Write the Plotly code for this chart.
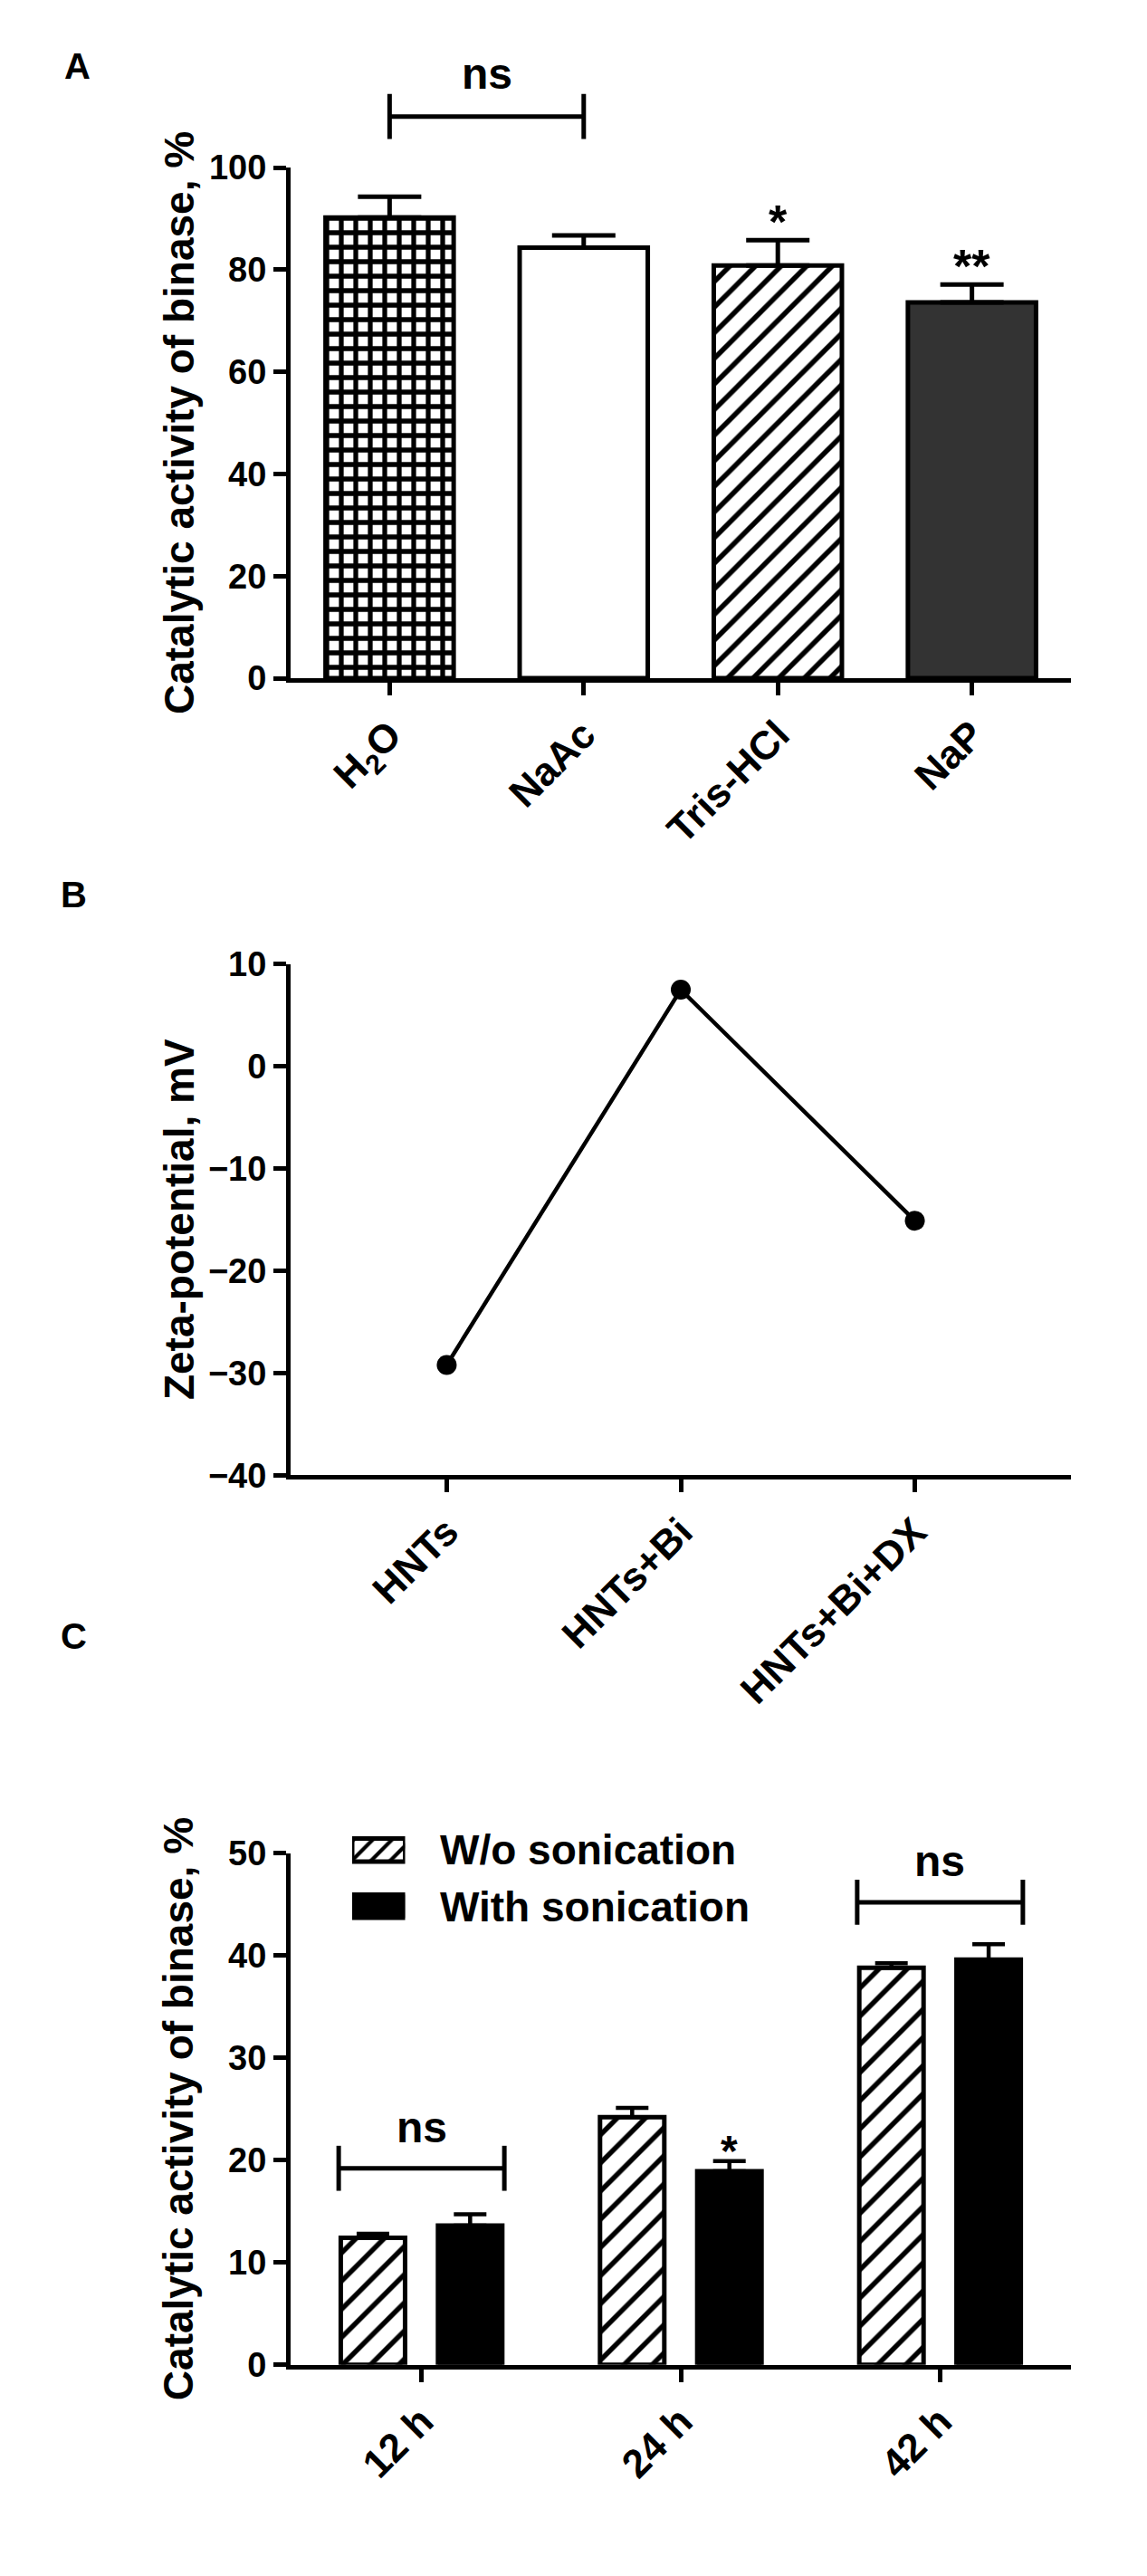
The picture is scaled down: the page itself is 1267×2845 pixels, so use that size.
import plotly.graph_objects as go

W, H = 1267, 2845
FONT = 'Liberation Sans'

# panel A: binase activity in different buffers
buffers = ['H<sub>2</sub>O', 'NaAc', 'Tris-HCl', 'NaP']
activity_buffers = [90.2, 84.3, 80.8, 73.6]
err_buffers = [4.1, 2.4, 5.0, 3.5]
stars_buffers = ['', '', '*', '**']
ns_buffers = [(0, 1, 110.0)]          # (from, to, bracket height)

# panel B: zeta-potential
samples = ['HNTs', 'HNTs+Bi', 'HNTs+Bi+DX']
zeta = [-29.2, 7.5, -15.1]

# panel C: activity vs time, with / without sonication
times = ['12 h', '24 h', '42 h']
series_c = ['W/o sonication', 'With sonication']
wo_sonic = [12.4, 24.2, 38.8]
wo_err = [0.4, 0.9, 0.45]
with_sonic = [13.6, 18.9, 39.6]
with_err = [1.1, 1.0, 1.5]
stars_times = ['', '*', '']
ns_times = [(0, 19.2), (2, 45.2)]      # (group, bracket height)


def fx(p):
    return p / W


def fy(p):
    return 1 - p / H


x_dom = [fx(321), fx(1183)]
A_TOP, A_BOT = 166.5, 739
dom_a = [fy(A_BOT), fy(A_TOP)]
dom_b = [fy(1632.5), fy(1059.4)]
dom_c = [fy(2629.5), fy(2056)]
# taller invisible axis over panel A, same scale, so the bracket above 100 is not clipped
A_EXTRA_TOP = 30
dom_a_top = [fy(A_BOT), fy(A_EXTRA_TOP)]
range_a_top = [0, 100 * (A_BOT - A_EXTRA_TOP) / (A_BOT - A_TOP)]

LW = 5
SLOT = 0.375
BW_C = 0.248


def pattern(shape, size, solidity):
    if not shape:
        return dict(shape='')
    return dict(shape=shape, size=size, solidity=solidity, fgcolor='black', bgcolor='white',
                fgopacity=1, fillmode='replace')


def bracket(x0, x1, y, h):
    return [x0, x0, None, x0, x1, None, x1, x1], [y - h, y + h, None, y, y, None, y - h, y + h]


fig = go.Figure()

# ---- A  (one trace per bar so that each bar gets its own fill)
styles_a = [('white', '+', 16, 0.55), ('white', '', 0, 0), ('white', '/', 20, 0.28), ('#333333', '', 0, 0)]
for i, (col, shp, sz, sol) in enumerate(styles_a):
    fig.add_trace(go.Bar(
        x=[i], y=[activity_buffers[i]], width=0.66,
        marker=dict(color=col, line=dict(color='black', width=LW), pattern=pattern(shp, sz, sol)),
        error_y=dict(type='data', array=[err_buffers[i]], arrayminus=[0],
                     symmetric=False, color='black', thickness=LW, width=35),
        xaxis='x', yaxis='y', showlegend=False))

for a, b, h in ns_buffers:
    bx, by = bracket(a, b, h, 4.4)
    fig.add_trace(go.Scatter(x=bx, y=by, mode='lines', line=dict(color='black', width=LW),
                             cliponaxis=False, xaxis='x', yaxis='y5', showlegend=False,
                             hoverinfo='skip'))

# ---- B
fig.add_trace(go.Scatter(
    x=list(range(len(samples))), y=zeta, mode='lines+markers',
    line=dict(color='black', width=4.5), marker=dict(color='black', size=22),
    cliponaxis=False, xaxis='x2', yaxis='y2', showlegend=False))

# ---- C
idx_c = list(range(len(times)))
fig.add_trace(go.Bar(
    x=idx_c, y=wo_sonic, width=BW_C, offset=-SLOT / 2 - BW_C / 2, name=series_c[0],
    marker=dict(color='white', line=dict(color='black', width=LW), pattern=pattern('/', 22, 0.25)),
    error_y=dict(type='data', array=wo_err, arrayminus=[0] * len(times), symmetric=False,
                 color='black', thickness=4.5, width=18),
    xaxis='x3', yaxis='y3', showlegend=False))
fig.add_trace(go.Bar(
    x=idx_c, y=with_sonic, width=BW_C, offset=SLOT / 2 - BW_C / 2, name=series_c[1],
    marker=dict(color='black', line=dict(color='black', width=LW)),
    error_y=dict(type='data', array=with_err, arrayminus=[0] * len(times), symmetric=False,
                 color='black', thickness=4.5, width=18),
    xaxis='x3', yaxis='y3', showlegend=False))

half = SLOT / 2 + BW_C / 2 + 0.008
for g, h in ns_times:
    bx, by = bracket(g - half, g + half, h, 2.2)
    fig.add_trace(go.Scatter(x=bx, y=by, mode='lines', line=dict(color='black', width=LW),
                             cliponaxis=False, xaxis='x3', yaxis='y3', showlegend=False))

# legend swatches for C (drawn on a small hidden axis)
swatches = [('white', '/'), ('black', '')]
for k, (col, shp) in enumerate(swatches):
    fig.add_trace(go.Bar(
        y=[len(series_c) - 1 - k], x=[1], orientation='h', width=0.41,
        marker=dict(color=col, line=dict(color='black', width=LW), pattern=pattern(shp, 15, 0.28)),
        cliponaxis=False, xaxis='x4', yaxis='y4', showlegend=False, hoverinfo='skip'))

# ---- axes
tick_y = dict(family=FONT, size=38, color='black', weight='bold')
tick_x = dict(family=FONT, size=44, color='black', weight='bold')


def yax(dom, rng, dtick, anchor):
    return dict(domain=dom, range=rng, tick0=rng[0], dtick=dtick, anchor=anchor,
                showline=True, linecolor='black', linewidth=LW,
                ticks='outside', ticklen=14, tickwidth=LW, tickcolor='black',
                showgrid=False, zeroline=False, tickfont=tick_y)


def xax(labels, pad, anchor):
    n = len(labels)
    return dict(domain=x_dom, range=[-pad, n - 1 + pad], anchor=anchor,
                tickvals=list(range(n)), ticktext=labels, tickangle=-45,
                showline=True, linecolor='black', linewidth=LW,
                ticks='outside', ticklen=14, tickwidth=LW, tickcolor='black',
                showgrid=False, zeroline=False, tickfont=tick_x)


annotations = []


def label(text, x, y, size, xanchor='center', yanchor='middle', **kw):
    annotations.append(dict(text=text, x=x, y=y, xref='paper', yref='paper', showarrow=False,
                            xanchor=xanchor, yanchor=yanchor,
                            font=dict(family=FONT, size=size, color='black', weight='bold'), **kw))


def note(text, x, y, xref, yref, shift, size):
    annotations.append(dict(text=text, x=x, y=y, xref=xref, yref=yref, yshift=shift,
                            showarrow=False, xanchor='center', yanchor='middle',
                            font=dict(family=FONT, size=size, color='black', weight='bold')))


label('A', fx(85), fy(53), 40)
label('B', fx(82), fy(981), 40)
label('C', fx(82), fy(1813), 40)

label('Catalytic activity of binase, %', fx(198), sum(dom_a) / 2, 46, textangle=-90)
label('Zeta-potential, mV', fx(198), sum(dom_b) / 2, 46, textangle=-90)
label('Catalytic activity of binase, %', fx(197), sum(dom_c) / 2, 46, textangle=-90)

label(series_c[0], fx(484), fy(2052.5), 46, xanchor='left')
label(series_c[1], fx(484), fy(2116), 46, xanchor='left')

for a, b, h in ns_buffers:
    note('ns', (a + b) / 2, h, 'x', 'y5', 47, 48)
for i, s in enumerate(stars_buffers):
    if s:
        note(s, i, activity_buffers[i] + err_buffers[i], 'x', 'y5', 20, 52)
for g, h in ns_times:
    note('ns', g, h, 'x3', 'y3', 45, 48)
for i, s in enumerate(stars_times):
    if s:
        note(s, i + SLOT / 2, with_sonic[i] + with_err[i], 'x3', 'y3', 11, 48)

hidden = dict(visible=False, showgrid=False, zeroline=False)

fig.update_layout(
    width=W, height=H, autosize=False,
    margin=dict(l=0, r=0, t=0, b=0),
    paper_bgcolor='white', plot_bgcolor='rgba(0,0,0,0)',
    barmode='overlay',
    xaxis=xax(buffers, 0.51, 'y'),
    yaxis=yax(dom_a, [0, 100], 20, 'x'),
    yaxis5=dict(domain=dom_a_top, range=range_a_top, anchor='x', **hidden),
    xaxis2=xax(samples, 0.667, 'y2'),
    yaxis2=yax(dom_b, [-40, 10], 10, 'x2'),
    xaxis3=xax(times, 0.505, 'y3'),
    yaxis3=yax(dom_c, [0, 50], 10, 'x3'),
    xaxis4=dict(domain=[fx(389), fx(447.5)], range=[0, 1], anchor='y4', **hidden),
    yaxis4=dict(domain=[fy(2147), fy(2021)], range=[-0.5, 1.5], anchor='x4', **hidden),
    annotations=annotations,
    showlegend=False,
)

fig.write_html('out.html', config={'displayModeBar': False},
               post_script="document.body.style.margin='0';")
